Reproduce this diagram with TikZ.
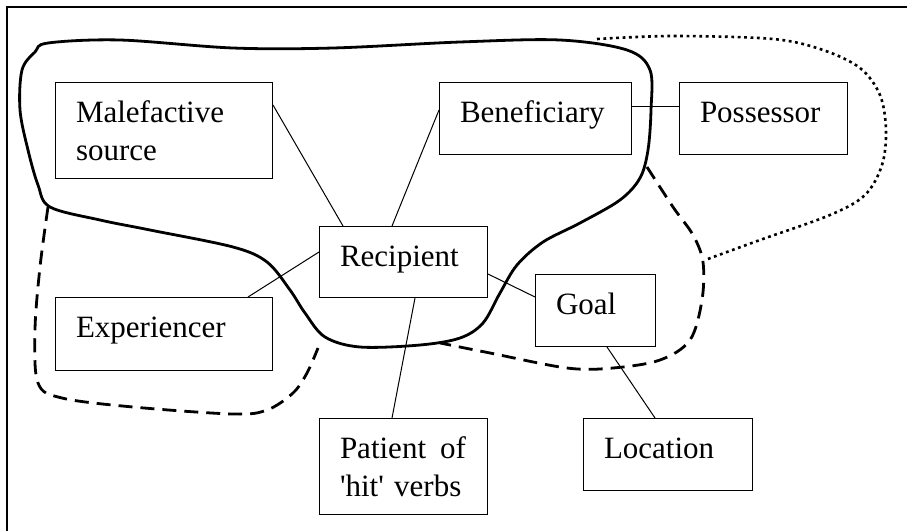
\documentclass[tikz,border=0pt]{standalone}
\usepackage{fontspec}
\newfontfamily\tnr{Liberation Serif}
\usetikzlibrary{calc}
\tikzset{
  bx/.style={draw, line width=1pt, anchor=north west, inner xsep=20.5pt, inner ysep=0pt,
    align=left, text height=40pt, font=\tnr\fontsize{31}{38}\selectfont},
  link/.style={line width=1pt},
  solidblob/.style={line width=2.8pt, line join=round},
  dashblob/.style={line width=2.8pt, dash pattern=on 14pt off 8pt},
  dotblob/.style={line width=2.6pt, dash pattern=on 2.8pt off 3.6pt},
  frame/.style={line width=1.3pt}
}
\begin{document}
\begin{tikzpicture}[x=1pt,y=-1pt]
\useasboundingbox (0,0) rectangle (907,531);
\draw[frame] (7,531) -- (7,7) -- (907,7);

% boxes
\node[bx, text width=176pt, text depth=56pt, minimum width=217pt, minimum height=96pt] (mal) at (55,82) {Malefactive\\source};
\node[bx, text width=151pt, text depth=32pt, minimum width=192pt, minimum height=72pt] (ben) at (439,82) {Beneficiary};
\node[bx, text width=127pt, text depth=32pt, minimum width=168pt, minimum height=72pt] (pos) at (679,82) {Possessor};
\node[bx, text width=127pt, text depth=31pt, minimum width=168pt, minimum height=71pt] (rec) at (319,226) {Recipient};
\node[bx, text width=176pt, text depth=33pt, minimum width=217pt, minimum height=73pt] (exp) at (55,297) {Experiencer};
\node[bx, text width=79pt, text depth=32pt, minimum width=120pt, minimum height=72pt] (goal) at (535,274) {Goal};
\node[bx, text width=127pt, text depth=56pt, minimum width=168pt, minimum height=96pt] (pat) at (319,418) {Patient\hspace{0.45em}of\\'hit' verbs};
\node[bx, text width=128pt, text depth=32pt, minimum width=169pt, minimum height=72pt] (loc) at (583,418) {Location};

% connectors
\draw[link] ($(mal.north east)+(0,23)$) -- ($(rec.north west)+(24,0)$);
\draw[link] ($(ben.north west)+(0,28)$) -- ($(rec.north west)+(73,0)$);
\draw[link] ($(ben.north east)+(0,24)$) -- ($(pos.north west)+(0,24)$);
\draw[link] ($(exp.north west)+(193,0)$) -- ($(rec.north west)+(0,26)$);
\draw[link] ($(rec.north east)+(0,48)$) -- ($(goal.north west)+(0,23)$);
\draw[link] ($(rec.south west)+(96,0)$) -- ($(pat.north west)+(73,0)$);
\draw[link] ($(goal.south west)+(72,0)$) -- ($(loc.north west)+(72,0)$);

% solid blob
\draw[solidblob] plot[smooth cycle, tension=0.55] coordinates {
 (48,43) (120,40) (233,48) (333,48) (460,42) (560,40) (627,50) (650,70) (651,110)
 (648,150) (640,178) (620,200) (580,223) (543,242) (517,265) (500,293) (483,323)
 (460,338) (420,345) (360,347) (325,337) (305,313) (290,290) (267,262) (233,247)
 (150,230) (100,220) (50,207) (38,185) (28,150) (20,110) (22,70) (35,52)};

% dashed blob, left part
\draw[dashblob] plot[smooth, tension=0.55] coordinates {
 (48,207) (40,267) (35,330) (38,383) (62,398) (133,407) (233,414) (267,410)
 (293,393) (307,373) (318,348)};

% dashed blob, right part
\draw[dashblob] plot[smooth, tension=0.55] coordinates {
 (647,167) (673,207) (693,235) (703,262) (702,300) (690,340) (660,360) (613,368)
 (567,368) (490,353) (440,343)};

% dotted blob
\draw[dotblob] plot[smooth, tension=0.55] coordinates {
 (597,39) (673,36) (773,39) (823,50) (860,68) (880,95) (886,130) (882,165)
 (865,195) (830,215) (760,240) (705,260)};
\end{tikzpicture}
\end{document}
